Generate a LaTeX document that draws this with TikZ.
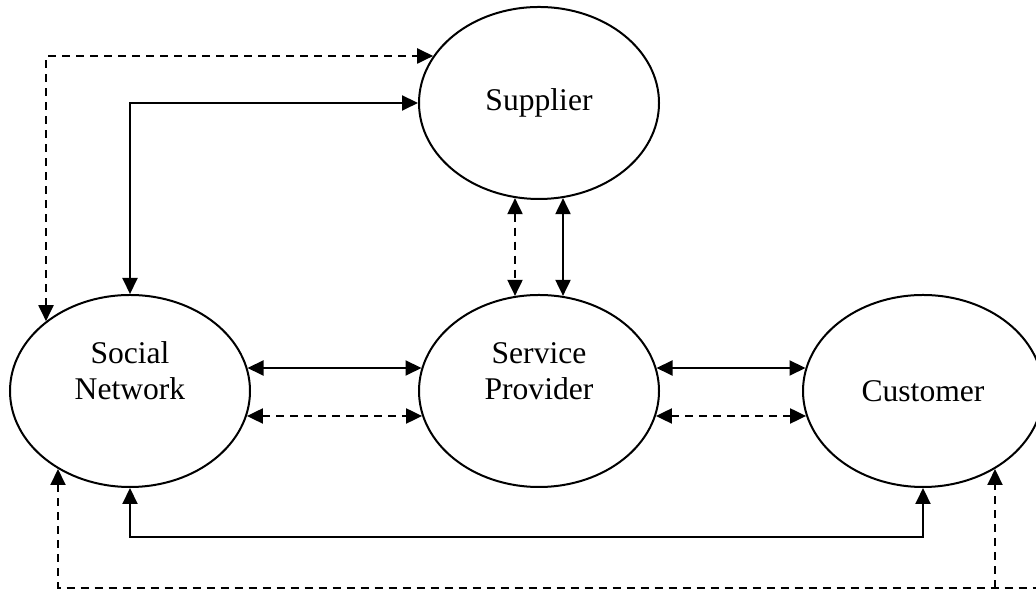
\documentclass[tikz,border=0pt]{standalone}
\usepackage{fontspec}
\setmainfont{Liberation Serif}
\usetikzlibrary{shapes.geometric, arrows.meta}

\begin{document}
\begin{tikzpicture}[x=0.5pt, y=0.5pt,
  >={Triangle[length=8pt, width=7.5pt]},
  ent/.style={ellipse, draw, line width=1pt, minimum width=120pt, minimum height=96pt, inner sep=0pt},
  lbl/.style={align=center, font=\fontsize{15.8}{18}\selectfont, inner sep=0pt},
  link/.style={line width=1pt, <->},
  dashlink/.style={link, dash pattern=on 4pt off 3pt},
]
  \useasboundingbox (0,0) rectangle (1036,592);
  % Nodes
  \node[ent, label={[name=suplbl, lbl]center:Supplier}] (sup) at (539,489) {};
  \node[ent, label={[name=snlbl, lbl, yshift=10pt]center:{Social\\Network}}] (sn) at (130,201) {};
  \node[ent, label={[name=splbl, lbl, yshift=10pt]center:{Service\\Provider}}] (sp) at (539,201) {};
  \node[ent, label={[name=culbl, lbl]center:Customer}] (cu) at (923,201) {};
  % Links to the supplier
  \draw[dashlink] ([shift={(-84,69.8)}]sn.center) |- ([shift={(-105.8,47)}]sup.center);
  \draw[link] (sn.north) |- (sup.west);
  \draw[dashlink] ([shift={(-24,-95.1)}]sup.center) -- ([shift={(-24,95.1)}]sp.center);
  \draw[link] ([shift={(24,-95.1)}]sup.center) -- ([shift={(24,95.1)}]sp.center);
  % Middle row
  \draw[link] ([shift={(117.5,23)}]sn.center) -- ([shift={(-117.5,23)}]sp.center);
  \draw[dashlink] ([shift={(116.9,-25)}]sn.center) -- ([shift={(-116.9,-25)}]sp.center);
  \draw[link] ([shift={(117.5,23)}]sp.center) -- ([shift={(-117.5,23)}]cu.center);
  \draw[dashlink] ([shift={(116.9,-25)}]sp.center) -- ([shift={(-116.9,-25)}]cu.center);
  % Bottom loops
  \draw[link] (sn.south) -- ++(0,-49) -| (cu.south);
  \coordinate (dr) at (1040,4);
  \coordinate (cuin) at ([shift={(72,-78)}]cu.center);
  \draw[dashlink, <-] ([shift={(-72,-78)}]sn.center) |- (dr);
  \draw[dashlink, ->] (cuin |- dr) -- (cuin);
\end{tikzpicture}
\end{document}
